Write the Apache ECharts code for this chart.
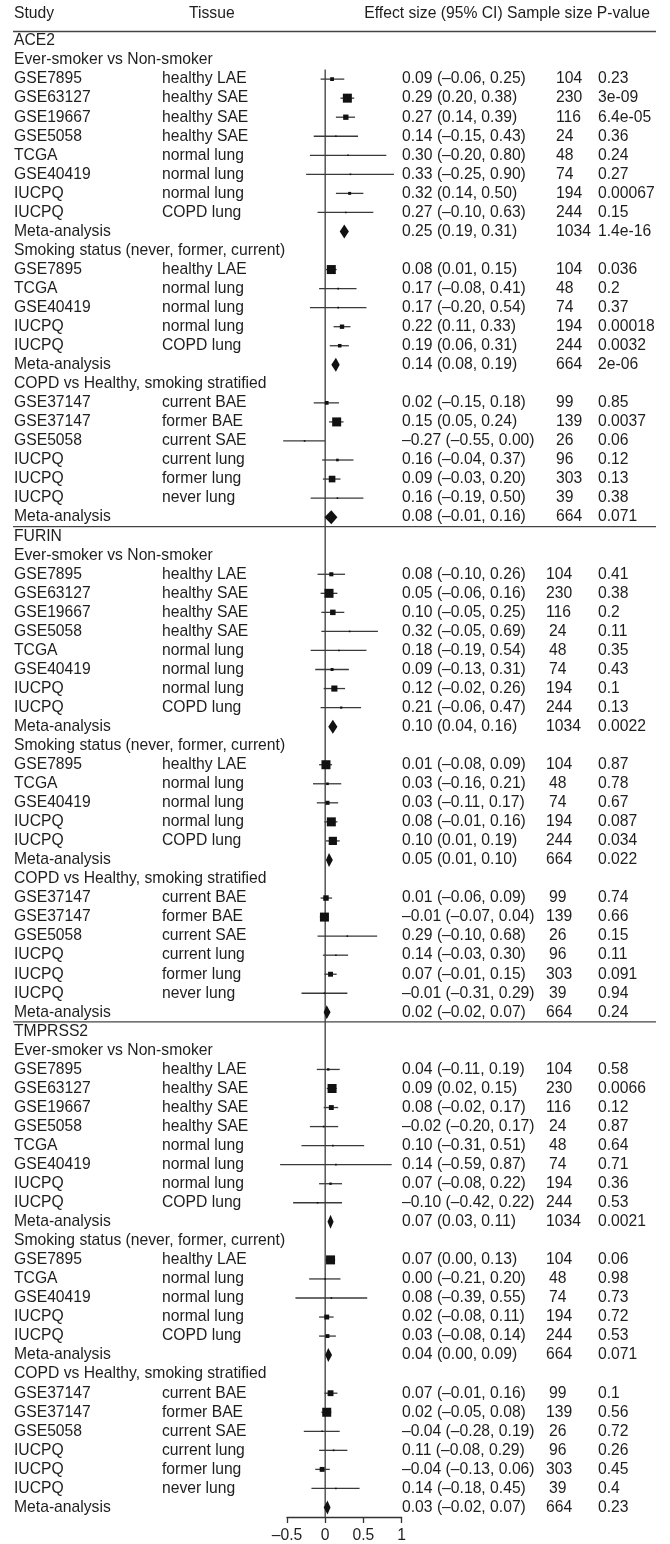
<!DOCTYPE html>
<html>
<head>
<meta charset="utf-8">
<script src="https://cdn.jsdelivr.net/npm/echarts@6/dist/echarts.min.js"></script>
<style>
html,body{margin:0;padding:0;background:#fff;}
#chart{width:670px;height:1544px;}
</style>
</head>
<body>
<div id="chart"></div>
<script>
// ---------------- data ----------------
const genes = ['ACE2', 'FURIN', 'TMPRSS2'];
const comparisons = ['Ever-smoker vs Non-smoker', 'Smoking status (never, former, current)', 'COPD vs Healthy, smoking stratified'];
const studyNames = [
  ['GSE7895', 'GSE63127', 'GSE19667', 'GSE5058', 'TCGA', 'GSE40419', 'IUCPQ', 'IUCPQ'],
  ['GSE7895', 'TCGA', 'GSE40419', 'IUCPQ', 'IUCPQ'],
  ['GSE37147', 'GSE37147', 'GSE5058', 'IUCPQ', 'IUCPQ', 'IUCPQ']
];
const tissueNames = [
  ['healthy LAE', 'healthy SAE', 'healthy SAE', 'healthy SAE', 'normal lung', 'normal lung', 'normal lung', 'COPD lung'],
  ['healthy LAE', 'normal lung', 'normal lung', 'normal lung', 'COPD lung'],
  ['current BAE', 'former BAE', 'current SAE', 'current lung', 'former lung', 'never lung']
];
// last value of each group = meta-analysis
const sampleSizes = [
  [104, 230, 116, 24, 48, 74, 194, 244, 1034],
  [104, 48, 74, 194, 244, 664],
  [99, 139, 26, 96, 303, 39, 664]
];

const ace2Effect = [[0.09, 0.29, 0.27, 0.14, 0.30, 0.33, 0.32, 0.27, 0.25], [0.08, 0.17, 0.17, 0.22, 0.19, 0.14], [0.02, 0.15, -0.27, 0.16, 0.09, 0.16, 0.08]];
const ace2Lower  = [[-0.06, 0.20, 0.14, -0.15, -0.20, -0.25, 0.14, -0.10, 0.19], [0.01, -0.08, -0.20, 0.11, 0.06, 0.08], [-0.15, 0.05, -0.55, -0.04, -0.03, -0.19, -0.01]];
const ace2Upper  = [[0.25, 0.38, 0.39, 0.43, 0.80, 0.90, 0.50, 0.63, 0.31], [0.15, 0.41, 0.54, 0.33, 0.31, 0.19], [0.18, 0.24, 0.00, 0.37, 0.20, 0.50, 0.16]];
const ace2P      = [['0.23', '3e-09', '6.4e-05', '0.36', '0.24', '0.27', '0.00067', '0.15', '1.4e-16'], ['0.036', '0.2', '0.37', '0.00018', '0.0032', '2e-06'], ['0.85', '0.0037', '0.06', '0.12', '0.13', '0.38', '0.071']];

const furinEffect = [[0.08, 0.05, 0.10, 0.32, 0.18, 0.09, 0.12, 0.21, 0.10], [0.01, 0.03, 0.03, 0.08, 0.10, 0.05], [0.01, -0.01, 0.29, 0.14, 0.07, -0.01, 0.02]];
const furinLower  = [[-0.10, -0.06, -0.05, -0.05, -0.19, -0.13, -0.02, -0.06, 0.04], [-0.08, -0.16, -0.11, -0.01, 0.01, 0.01], [-0.06, -0.07, -0.10, -0.03, -0.01, -0.31, -0.02]];
const furinUpper  = [[0.26, 0.16, 0.25, 0.69, 0.54, 0.31, 0.26, 0.47, 0.16], [0.09, 0.21, 0.17, 0.16, 0.19, 0.10], [0.09, 0.04, 0.68, 0.30, 0.15, 0.29, 0.07]];
const furinP      = [['0.41', '0.38', '0.2', '0.11', '0.35', '0.43', '0.1', '0.13', '0.0022'], ['0.87', '0.78', '0.67', '0.087', '0.034', '0.022'], ['0.74', '0.66', '0.15', '0.11', '0.091', '0.94', '0.24']];

const tmprss2Effect = [[0.04, 0.09, 0.08, -0.02, 0.10, 0.14, 0.07, -0.10, 0.07], [0.07, 0.00, 0.08, 0.02, 0.03, 0.04], [0.07, 0.02, -0.04, 0.11, -0.04, 0.14, 0.03]];
const tmprss2Lower  = [[-0.11, 0.02, -0.02, -0.20, -0.31, -0.59, -0.08, -0.42, 0.03], [0.00, -0.21, -0.39, -0.08, -0.08, 0.00], [-0.01, -0.05, -0.28, -0.08, -0.13, -0.18, -0.02]];
const tmprss2Upper  = [[0.19, 0.15, 0.17, 0.17, 0.51, 0.87, 0.22, 0.22, 0.11], [0.13, 0.20, 0.55, 0.11, 0.14, 0.09], [0.16, 0.08, 0.19, 0.29, 0.06, 0.45, 0.07]];
const tmprss2P      = [['0.58', '0.0066', '0.12', '0.87', '0.64', '0.71', '0.36', '0.53', '0.0021'], ['0.06', '0.98', '0.73', '0.72', '0.53', '0.071'], ['0.1', '0.56', '0.72', '0.26', '0.45', '0.4', '0.23']];

const xTicks = [-0.5, 0, 0.5, 1];
const headerLeft = ['Study', 'Tissue'];
const headerRight = 'Effect size (95% CI) Sample size P-value';

// ---------------- build rows ----------------
const geneData = [
  [ace2Effect, ace2Lower, ace2Upper, ace2P],
  [furinEffect, furinLower, furinUpper, furinP],
  [tmprss2Effect, tmprss2Lower, tmprss2Upper, tmprss2P]
];
const rows = [];
genes.forEach((g, gi) => {
  rows.push({type: 'gene', label: g, gene: gi});
  const [E, L, U, P] = geneData[gi];
  comparisons.forEach((c, ci) => {
    rows.push({type: 'comp', label: c, gene: gi});
    const m = studyNames[ci].length;
    // weights (inverse variance from CI width) for box sizing within the group
    const wts = studyNames[ci].map((s, si) => 1 / Math.pow(U[ci][si] - L[ci][si], 2));
    const wmax = Math.max.apply(null, wts);
    studyNames[ci].forEach((s, si) => {
      rows.push({type: 'study', label: s, tissue: tissueNames[ci][si], est: E[ci][si], lo: L[ci][si], hi: U[ci][si],
                 n: sampleSizes[ci][si], p: P[ci][si], gene: gi, rel: wts[si] / wmax});
    });
    rows.push({type: 'meta', label: 'Meta-analysis', tissue: '', est: E[ci][m], lo: L[ci][m], hi: U[ci][m], n: sampleSizes[ci][m], p: P[ci][m], gene: gi});
  });
});

// ---------------- styling ----------------
const FONT = "'Liberation Sans', Arial, Helvetica, sans-serif";
const FS = 15.7;
const TEXT = '#1e1e1e';
const LINEC = '#3a3a3a';
const COL = {study: 14, tissue: 162, effect: 402, n: [556, 546, 546], p: 598};

function fmt(v) {
  return (v < 0 ? '\u2013' : '') + Math.abs(v).toFixed(2);
}

function renderRow(params, api) {
  const r = rows[params.dataIndex];
  const y = api.coord([0, params.dataIndex])[1];
  const step = api.size([0, 1])[1];
  const children = [];
  const txt = (s, x) => ({
    type: 'text',
    style: {text: s, x: x, y: y, fill: TEXT, fontSize: FS, fontFamily: FONT, align: 'left', verticalAlign: 'middle'}
  });
  if (r.type === 'gene') {
    children.push({type: 'line', shape: {x1: 13, y1: y - step / 2, x2: 656, y2: y - step / 2}, style: {stroke: '#444', lineWidth: 1.4}});
    children.push(txt(r.label, COL.study));
  } else if (r.type === 'comp') {
    children.push(txt(r.label, COL.study));
  } else {
    children.push(txt(r.label, COL.study));
    if (r.tissue) children.push(txt(r.tissue, COL.tissue));
    children.push(txt(fmt(r.est) + ' (' + fmt(r.lo) + ', ' + fmt(r.hi) + ')', COL.effect));
    const ns = String(r.n);
    children.push(txt(ns, COL.n[r.gene] + (r.gene > 0 && ns.length === 2 ? 3 : 0)));
    children.push(txt(r.p, COL.p));
    const xl = api.coord([r.lo, params.dataIndex])[0];
    const xh = api.coord([r.hi, params.dataIndex])[0];
    const xc = api.coord([r.est, params.dataIndex])[0];
    if (r.type === 'study') {
      children.push({type: 'line', shape: {x1: xl, y1: y, x2: xh, y2: y}, style: {stroke: LINEC, lineWidth: 1.3}});
      const s = Math.max(1.6, 9 * Math.pow(r.rel, 0.8));
      children.push({type: 'rect', shape: {x: xc - s / 2, y: y - s / 2, width: s, height: s}, style: {fill: '#111'}});
    } else {
      const h = 7;
      children.push({type: 'polygon', shape: {points: [[xl, y], [xc, y - h], [xh, y], [xc, y + h]]}, style: {fill: '#111'}});
    }
  }
  return {type: 'group', children: children};
}

const firstStudy = rows.findIndex(r => r.type === 'study');

const chart = echarts.init(document.getElementById('chart'), null, {renderer: 'canvas'});
chart.setOption({
  animation: false,
  backgroundColor: '#fff',
  grid: {left: 287, width: 114.6, top: 31.5, height: 1486},
  xAxis: {
    type: 'value', min: xTicks[0], max: xTicks[xTicks.length - 1], interval: 0.5,
    axisLine: {show: true, onZero: false, lineStyle: {color: '#333', width: 1.3}},
    axisTick: {show: true, length: 6, lineStyle: {color: '#333', width: 1.3}},
    splitLine: {show: false},
    axisLabel: {
      color: TEXT, fontSize: FS, fontFamily: FONT, margin: 11,
      formatter: v => (v < 0 ? '\u2013' : '') + Math.abs(v)
    }
  },
  yAxis: {type: 'value', min: -0.5, max: rows.length - 0.5, inverse: true, show: false},
  graphic: [
    {type: 'text', left: 14, top: 6, style: {text: headerLeft[0], fill: TEXT, fontSize: FS, fontFamily: FONT}},
    {type: 'text', left: 189, top: 6, style: {text: headerLeft[1], fill: TEXT, fontSize: FS, fontFamily: FONT}},
    {type: 'text', right: 20, top: 6, style: {text: headerRight, fill: TEXT, fontSize: FS, fontFamily: FONT}}
  ],
  series: [
    {
      type: 'custom', clip: false,
      data: [[0, firstStudy - 0.5]],
      renderItem: (params, api) => {
        const top = api.coord([0, firstStudy - 0.5]);
        const bot = api.coord([0, rows.length - 0.5]);
        return {type: 'line', shape: {x1: top[0], y1: top[1], x2: bot[0], y2: bot[1]}, style: {stroke: '#555', lineWidth: 1.5}};
      }
    },
    {
      type: 'custom', clip: false,
      data: rows.map((r, i) => [0, i]),
      renderItem: renderRow
    }
  ]
});
</script>
</body>
</html>
